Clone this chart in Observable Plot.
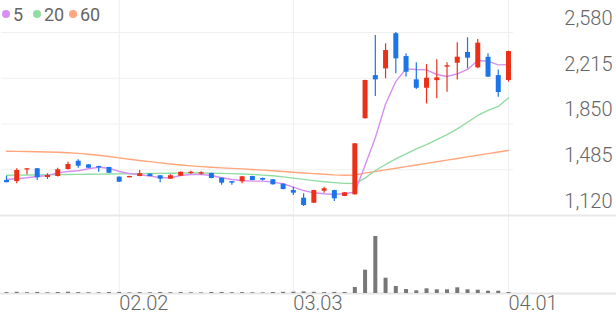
<!DOCTYPE html>
<html><head><meta charset="utf-8">
<script src="https://cdn.jsdelivr.net/npm/d3@7"></script>
<script src="https://cdn.jsdelivr.net/npm/@observablehq/plot@0.6"></script>
<style>
body{margin:0;background:#fff;}
#wrap{position:relative;width:616px;height:321px;overflow:hidden;font-family:Roboto,sans-serif;}
#wrap svg{position:absolute;left:0;top:0;}
#legend{position:absolute;left:0;top:0;width:140px;height:30px;font-size:18px;color:#666;}
#legend .item{position:absolute;top:3px;display:flex;align-items:center;height:22px;}
#legend .item:nth-child(1){left:2px;}
#legend .item:nth-child(2){left:33px;}
#legend .item:nth-child(3){left:69px;}
#legend .dot{width:8px;height:8px;border-radius:50%;margin-right:3px;}
</style></head><body>
<div id="wrap"><div id="legend"></div></div>
<script>
const dates = ["01.16","01.19","01.20","01.21","01.22","01.23","01.26","01.27","01.28","01.29","01.30",
"02.02","02.03","02.04","02.05","02.06","02.09","02.10","02.11","02.12","02.13","02.19","02.20",
"02.23","02.24","02.25","02.26","02.27","03.03","03.04","03.05","03.06","03.09","03.10","03.11",
"03.12","03.13","03.16","03.17","03.18","03.19","03.20","03.23","03.24","03.25","03.26","03.27",
"03.30","03.31","04.01"];
const open  = [1399,1391,1483,1493,1423,1431,1487,1553,1524,1511,1503,1426,1421,1431,1450,1437,1410,1434,1455,1450,1455,1418,1390,1389,1431,1415,1405,1370,1319,1258,1218,1314,1319,1272,1285,1892,2236,2290,2570,2388,2202,2135,2196,2304,2335,2421,2298,2382,2236,2197];
const high  = [1433,1493,1493,1495,1453,1497,1545,1564,1527,1513,1505,1428,1433,1479,1452,1439,1445,1467,1473,1469,1457,1420,1391,1431,1433,1420,1407,1372,1346,1293,1321,1346,1321,1303,1694,2199,2556,2490,2580,2410,2338,2324,2362,2339,2498,2538,2524,2410,2281,2430];
const low   = [1380,1373,1445,1399,1407,1427,1483,1497,1495,1465,1455,1384,1419,1429,1429,1381,1408,1432,1449,1442,1413,1362,1362,1373,1397,1395,1363,1325,1280,1192,1216,1298,1232,1270,1283,1890,2069,2211,2250,2224,2125,2010,2051,2103,2202,2290,2290,2220,2063,2184];
const close = [1382,1479,1493,1421,1439,1485,1527,1513,1497,1500,1457,1386,1431,1453,1431,1410,1437,1465,1465,1461,1415,1378,1378,1429,1399,1402,1365,1327,1298,1200,1319,1333,1253,1301,1692,2197,2202,2436,2370,2263,2135,2215,2218,2315,2383,2375,2495,2224,2101,2428];
const volume = [90,120,80,110,70,100,130,90,80,70,100,110,60,90,70,100,80,90,70,60,100,110,80,90,70,60,100,120,130,160,120,90,110,100,600,2330,5700,1530,700,400,270,470,370,370,570,370,330,230,230,100];
const ma5  = [1407,1413,1421,1431,1439,1460,1471,1477,1493,1505,1497,1471,1455,1445,1434,1423,1421,1439,1447,1447,1439,1421,1407,1399,1394,1394,1386,1373,1346,1319,1301,1293,1288,1295,1306,1520,1740,2010,2190,2290,2285,2282,2245,2229,2250,2285,2357,2351,2322,2324];
const ma20 = [1441,1442,1443,1444,1445,1446,1447,1448,1449,1450,1451,1452,1453,1454,1455,1456,1457,1458,1459,1459,1458,1456,1454,1451,1448,1442,1437,1428,1418,1408,1398,1389,1382,1376,1375,1418,1479,1527,1572,1612,1652,1686,1726,1766,1811,1864,1918,1958,1990,2059];
const ma60 = [1633,1632,1631,1629,1627,1625,1621,1616,1609,1601,1591,1580,1569,1559,1550,1540,1531,1523,1516,1510,1505,1500,1496,1492,1487,1482,1477,1471,1465,1459,1454,1449,1444,1441,1443,1458,1471,1484,1497,1510,1523,1536,1549,1562,1575,1588,1601,1614,1627,1639];
const maPeriods = [5, 20, 60];
const maColors = ["#d690f2", "#90dca2", "#ffa67c"];
const yTicks = [1120, 1485, 1850, 2215, 2580];
const xTickLabels = ["02.02", "03.03", "04.01"];

const UP = "#ec3018", DOWN = "#1b74ea";
const rows = dates.map((d, i) => ({
  i, date: d, open: open[i], high: high[i], low: low[i], close: close[i],
  volume: volume[i], ma5: ma5[i], ma20: ma20[i], ma60: ma60[i],
  color: close[i] >= open[i] ? UP : DOWN
}));
const tickIdx = xTickLabels.map(l => dates.indexOf(l));
const fmt = d3.format(",");
const xOpts = {type: "linear", domain: [0, dates.length - 1], range: [6, 508], axis: null};

const vol = Plot.plot({
  width: 616, height: 321,
  marginTop: 0, marginRight: 0, marginBottom: 28, marginLeft: 0,
  style: {background: "white", fontFamily: "Roboto, sans-serif"},
  x: xOpts,
  y: {domain: [0, 7000], range: [293, 223], axis: null},
  marks: [
    Plot.ruleX(tickIdx, {x: d => d, stroke: "#eeeeee", strokeWidth: 1}),
    Plot.ruleY([0], {stroke: "#e6e6e6", strokeWidth: 2}),
    Plot.ruleX(rows, {x: "i", y: "volume", stroke: "#777777", strokeWidth: 4}),
    Plot.text(tickIdx, {x: d => d, text: d => dates[d], frameAnchor: "bottom", textAnchor: "start",
      dx: 0, dy: 16, fontSize: 20, fill: "#666666", fontWeight: 300})
  ]
});

const price = Plot.plot({
  width: 616, height: 321,
  marginTop: 0, marginRight: 0, marginBottom: 0, marginLeft: 0,
  style: {background: "transparent", fontFamily: "Roboto, sans-serif"},
  x: xOpts,
  y: {domain: [yTicks[0], yTicks[yTicks.length - 1]], range: [215, 32], axis: null},
  color: {type: "identity"},
  marks: [
    Plot.ruleY(yTicks.slice(1), {y: d => d, x1: -0.5, x2: dates.length - 0.5, stroke: "#efefef"}),
    Plot.ruleY([yTicks[0]], {y: d => d, stroke: "#e8e8e8", strokeWidth: 2}),
    Plot.text(yTicks, {y: d => d, text: d => fmt(d), frameAnchor: "right", textAnchor: "end",
      dx: -4, dy: -14, fontSize: 20, fill: "#666666", fontWeight: 300}),
    Plot.line(rows, {x: "i", y: "ma60", stroke: maColors[2], strokeWidth: 1.4}),
    Plot.line(rows, {x: "i", y: "ma20", stroke: maColors[1], strokeWidth: 1.4}),
    Plot.line(rows, {x: "i", y: "ma5", stroke: maColors[0], strokeWidth: 1.4}),
    Plot.ruleX(rows, {x: "i", y1: "low", y2: "high", stroke: "color", strokeWidth: 1.2}),
    Plot.ruleX(rows, {x: "i", y1: "open", y2: "close", stroke: "color", strokeWidth: 5})
  ]
});

const wrap = document.getElementById("wrap");
wrap.insertBefore(price, wrap.firstChild);
wrap.insertBefore(vol, wrap.firstChild);

const legend = document.getElementById("legend");
maPeriods.forEach((p, k) => {
  const item = document.createElement("div");
  item.className = "item";
  const dot = document.createElement("span");
  dot.className = "dot";
  dot.style.background = maColors[k];
  const t = document.createElement("span");
  t.textContent = String(p);
  item.appendChild(dot); item.appendChild(t);
  legend.appendChild(item);
});
</script>
</body></html>
